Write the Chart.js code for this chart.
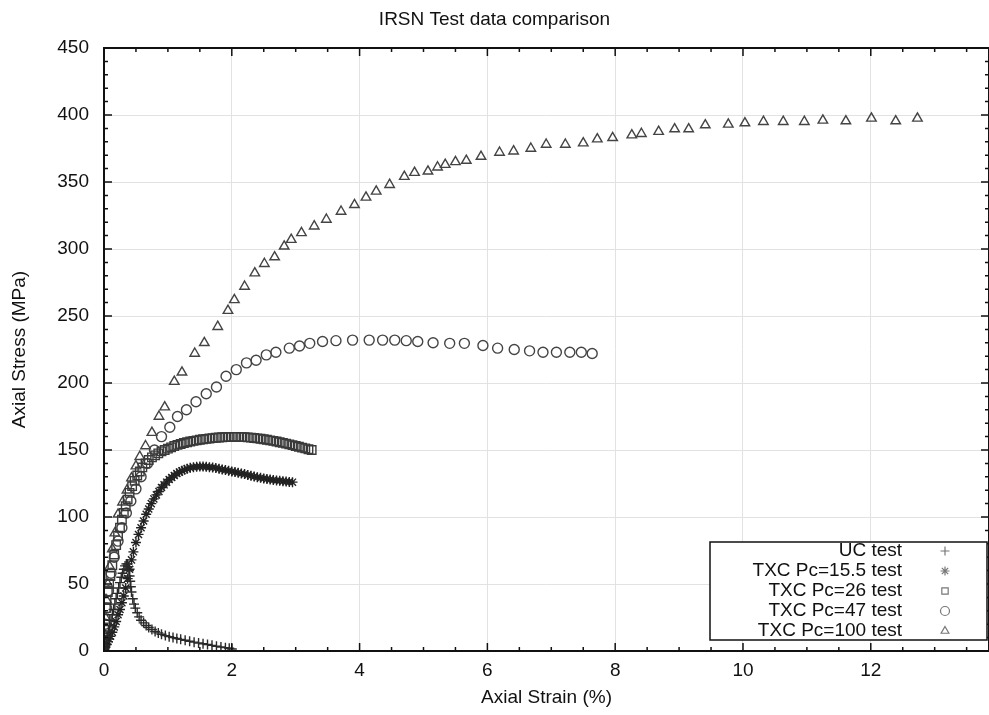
<!DOCTYPE html>
<html>
<head>
<meta charset="utf-8">
<title>IRSN Test data comparison</title>
<script src="https://cdn.jsdelivr.net/npm/chart.js@4.4.1/dist/chart.umd.min.js"></script>
<style>
  html, body { margin: 0; padding: 0; background: #fff; }
  #grafico { display: block; }
</style>
</head>
<body>
<canvas id="grafico" width="989" height="715"></canvas>
<script>
// Dados (deformação axial em %, tensão axial em MPa)
const ucStrain = [0, 0.01, 0.02, 0.03, 0.05, 0.07, 0.09, 0.11, 0.13, 0.15, 0.17, 0.19, 0.21, 0.23, 0.25, 0.27, 0.29, 0.31, 0.33, 0.35, 0.37, 0.38, 0.39, 0.4, 0.41, 0.42, 0.43, 0.45, 0.47, 0.49, 0.52, 0.55, 0.58, 0.62, 0.66, 0.7, 0.75, 0.8, 0.85, 0.9, 0.96, 1.02, 1.08, 1.14, 1.2, 1.27, 1.34, 1.41, 1.48, 1.55, 1.62, 1.69, 1.76, 1.83, 1.9, 1.96, 2.0];
const ucStress = [0, 2, 4, 7, 11, 15, 19, 23, 27, 31, 35, 39, 43, 47, 51, 55, 58, 61, 63.5, 65, 65, 63, 60, 56, 52, 48, 44, 39, 35, 32, 28.5, 25.5, 23, 21, 19, 17.5, 16, 14.5, 13.5, 12.5, 11.5, 10.7, 10, 9.3, 8.7, 8, 7.3, 6.6, 6, 5.4, 4.8, 4.2, 3.6, 3, 2.5, 2, 1.5];

const pc15Strain = [0, 0.02, 0.04, 0.06, 0.08, 0.1, 0.13, 0.16, 0.19, 0.22, 0.25, 0.28, 0.31, 0.34, 0.37, 0.4, 0.43, 0.46, 0.5, 0.54, 0.58, 0.62, 0.66, 0.7, 0.74, 0.78, 0.82, 0.86, 0.9, 0.94, 0.98, 1.02, 1.06, 1.1, 1.14, 1.18, 1.22, 1.26, 1.3, 1.35, 1.4, 1.45, 1.5, 1.55, 1.6, 1.65, 1.7, 1.75, 1.8, 1.85, 1.9, 1.95, 2.0, 2.05, 2.1, 2.15, 2.2, 2.25, 2.3, 2.35, 2.4, 2.45, 2.5, 2.55, 2.6, 2.65, 2.7, 2.75, 2.8, 2.85, 2.9, 2.95];
const pc15Stress = [0, 3, 5, 7, 9, 11, 14, 18, 22, 27, 31, 36, 41, 47, 54, 61, 68, 74, 81, 87, 92, 97, 102, 106, 110, 113.5, 116.5, 119, 122, 124, 126, 128, 129.5, 131, 132.5, 133.5, 134.5, 135.3, 136, 136.7, 137.2, 137.5, 137.6, 137.6, 137.5, 137.2, 136.9, 136.5, 136, 135.5, 135, 134.5, 134, 133.5, 133, 132.5, 132, 131.4, 130.8, 130.2, 129.7, 129.2, 128.8, 128.4, 128, 127.6, 127.3, 127, 126.7, 126.4, 126.2, 126];

const pc26Strain = [0, 0.01, 0.02, 0.02, 0.03, 0.04, 0.06, 0.08, 0.1, 0.13, 0.16, 0.19, 0.22, 0.25, 0.28, 0.31, 0.34, 0.37, 0.4, 0.44, 0.48, 0.52, 0.56, 0.6, 0.65, 0.7, 0.75, 0.8, 0.85, 0.9, 0.95, 1.0, 1.05, 1.1, 1.15, 1.2, 1.25, 1.3, 1.35, 1.4, 1.45, 1.5, 1.55, 1.6, 1.65, 1.7, 1.75, 1.8, 1.85, 1.9, 1.95, 2.0, 2.05, 2.1, 2.15, 2.2, 2.25, 2.3, 2.35, 2.4, 2.45, 2.5, 2.55, 2.6, 2.65, 2.7, 2.75, 2.8, 2.85, 2.9, 2.95, 3.0, 3.05, 3.1, 3.15, 3.2, 3.25];
const pc26Stress = [0, 8, 16, 24, 32, 38, 44, 50, 56, 64, 72, 79, 86, 92, 98, 103, 108, 113, 118, 123, 127, 131, 134, 137, 140, 142.5, 144.5, 146, 147.5, 149, 150, 151, 152, 153, 153.8, 154.5, 155.2, 155.8, 156.3, 156.8, 157.2, 157.6, 158, 158.3, 158.6, 158.9, 159.1, 159.3, 159.5, 159.6, 159.7, 159.8, 159.8, 159.8, 159.7, 159.6, 159.4, 159.2, 159, 158.7, 158.4, 158, 157.6, 157.2, 156.8, 156.3, 155.8, 155.3, 154.8, 154.2, 153.6, 153, 152.4, 151.8, 151.2, 150.6, 150];

const pc47Strain = [0, 0.01, 0.02, 0.04, 0.07, 0.11, 0.16, 0.22, 0.28, 0.35, 0.42, 0.5, 0.58, 0.68, 0.79, 0.9, 1.03, 1.15, 1.29, 1.44, 1.6, 1.76, 1.91, 2.07, 2.23, 2.38, 2.54, 2.69, 2.9, 3.06, 3.22, 3.42, 3.63, 3.89, 4.15, 4.36, 4.55, 4.73, 4.91, 5.15, 5.41, 5.64, 5.93, 6.16, 6.42, 6.66, 6.87, 7.08, 7.29, 7.47, 7.64];
const pc47Stress = [0, 10, 20, 32, 45, 58, 70, 82, 92, 103, 112, 121, 130, 140, 150, 160, 167, 175, 180, 186, 192, 197, 205, 210, 215, 217, 221, 223, 226, 227.6, 229.6, 231, 231.6, 232, 232, 232, 232, 231.6, 231, 230, 229.6, 229.6, 228, 226, 225, 224, 223, 223, 223, 223, 222];

const pc100Strain = [0, 0.01, 0.02, 0.04, 0.06, 0.09, 0.13, 0.17, 0.22, 0.29, 0.36, 0.43, 0.5, 0.56, 0.65, 0.75, 0.86, 0.95, 1.1, 1.22, 1.42, 1.57, 1.78, 1.94, 2.04, 2.2, 2.36, 2.51, 2.67, 2.82, 2.93, 3.09, 3.29, 3.48, 3.71, 3.92, 4.1, 4.26, 4.47, 4.7, 4.86, 5.07, 5.22, 5.34, 5.5, 5.67, 5.9, 6.19, 6.41, 6.68, 6.92, 7.22, 7.5, 7.72, 7.96, 8.26, 8.41, 8.68, 8.93, 9.15, 9.41, 9.77, 10.03, 10.32, 10.63, 10.96, 11.25, 11.61, 12.01, 12.39, 12.73];
const pc100Stress = [0, 12, 25, 38, 50, 63, 76, 88, 102, 111, 120, 129, 138, 145, 153, 163, 175, 182, 201, 208, 222, 230, 242, 254, 262, 272, 282, 289, 294, 302, 307, 312, 317, 322, 328, 333, 338.5, 343, 348, 354, 357, 358, 361, 363, 365, 366, 369, 372, 373, 375, 378, 378, 379, 382, 383, 385, 386, 387.6, 389.5, 389.5, 392.5, 393, 394, 395, 395, 395, 396, 395.5, 397.5, 395.5, 397.5];

const serieLabels = ['UC test', 'TXC Pc=15.5 test', 'TXC Pc=26 test', 'TXC Pc=47 test', 'TXC Pc=100 test'];

const xMax = 13.85;
const yMax = 450;
const fonte = '"Liberation Sans", Arial, sans-serif';

function pares(xs, ys) {
  return xs.map((x, i) => ({ x: x, y: ys[i] }));
}

function serie(label, xs, ys, estilo, raio, cor) {
  return {
    label: label,
    data: pares(xs, ys),
    pointStyle: estilo,
    pointRadius: raio,
    pointBorderWidth: 1.4,
    borderColor: cor,
    backgroundColor: 'rgba(0,0,0,0)',
    showLine: false
  };
}

// Moldura e marcas para dentro, estilo gnuplot
const molduraPlugin = {
  id: 'moldura',
  afterDatasetsDraw(chart) {
    const { ctx, chartArea: a } = chart;
    const sx = chart.scales.x;
    const sy = chart.scales.y;
    ctx.save();
    ctx.strokeStyle = '#111';
    ctx.lineWidth = 1.5;
    ctx.beginPath();
    for (let i = 0; i * 0.5 <= xMax; i++) {
      const px = sx.getPixelForValue(i * 0.5);
      const len = i % 4 === 0 ? 8 : 4;
      ctx.moveTo(px, a.bottom); ctx.lineTo(px, a.bottom - len);
      ctx.moveTo(px, a.top); ctx.lineTo(px, a.top + len);
    }
    for (let i = 0; i * 10 <= yMax; i++) {
      const py = sy.getPixelForValue(i * 10);
      const len = i % 5 === 0 ? 8 : 4;
      ctx.moveTo(a.left, py); ctx.lineTo(a.left + len, py);
      ctx.moveTo(a.right, py); ctx.lineTo(a.right - len, py);
    }
    ctx.stroke();
    ctx.lineWidth = 2;
    ctx.strokeRect(a.left, a.top, a.right - a.left, a.bottom - a.top);
    ctx.restore();
  }
};

// Legenda em caixa no canto inferior direito
const legendaPlugin = {
  id: 'legenda',
  afterDraw(chart) {
    const ctx = chart.ctx;
    const caixa = { x: 710, y: 542, w: 277, h: 98 };
    ctx.save();
    ctx.fillStyle = '#fff';
    ctx.fillRect(caixa.x, caixa.y, caixa.w, caixa.h);
    ctx.strokeStyle = '#111';
    ctx.lineWidth = 1.5;
    ctx.strokeRect(caixa.x, caixa.y, caixa.w, caixa.h);
    ctx.font = '19px ' + fonte;
    ctx.textAlign = 'right';
    ctx.textBaseline = 'middle';
    chart.data.datasets.forEach((ds, i) => {
      const yy = caixa.y + 9 + i * 20;
      ctx.fillStyle = '#111';
      ctx.fillText(ds.label, 902, yy);
      ctx.strokeStyle = '#777';
      ctx.fillStyle = 'rgba(0,0,0,0)';
      ctx.lineWidth = 1.2;
      Chart.helpers.drawPoint(ctx, {
        pointStyle: ds.pointStyle,
        radius: 4.5,
        rotation: 0,
        borderWidth: 1.2
      }, 945, yy);
    });
    ctx.restore();
  }
};

function desenharGrafico() {
  const ctx = document.getElementById('grafico').getContext('2d');
  new Chart(ctx, {
    type: 'scatter',
    data: {
      datasets: [
        serie(serieLabels[0], ucStrain, ucStress, 'cross', 5, '#2a2a2a'),
        serie(serieLabels[1], pc15Strain, pc15Stress, 'star', 5, '#222'),
        serie(serieLabels[2], pc26Strain, pc26Stress, 'rect', 6, '#3a3a3a'),
        serie(serieLabels[3], pc47Strain, pc47Stress, 'circle', 5, '#444'),
        serie(serieLabels[4], pc100Strain, pc100Stress, 'triangle', 5.5, '#444')
      ]
    },
    options: {
      responsive: false,
      animation: false,
      events: [],
      layout: { padding: 0, autoPadding: false },
      plugins: {
        legend: { display: false },
        tooltip: { enabled: false },
        title: {
          display: true,
          text: 'IRSN Test data comparison',
          color: '#111',
          font: { family: fonte, size: 19, weight: 'normal' },
          padding: { top: 8, bottom: 17.2 }
        }
      },
      scales: {
        x: {
          type: 'linear',
          min: 0,
          max: xMax,
          afterBuildTicks: (scale) => {
            scale.ticks = scale.ticks.filter(t => Math.abs(t.value / 2 - Math.round(t.value / 2)) < 1e-6);
          },
          afterFit: (scale) => {
            scale.height = 64;
            scale.paddingRight = 0;
            scale.paddingLeft = 0;
          },
          ticks: { stepSize: 2, color: '#111', padding: 8, font: { family: fonte, size: 19 } },
          grid: { color: '#e2e2e2', lineWidth: 1, drawTicks: false },
          border: { display: false },
          title: {
            display: true,
            text: 'Axial Strain (%)',
            color: '#111',
            font: { family: fonte, size: 19 },
            padding: { top: 0, bottom: 5.6 }
          }
        },
        y: {
          type: 'linear',
          min: 0,
          max: yMax,
          afterFit: (scale) => {
            scale.width = 104;
            scale.paddingTop = 0;
            scale.paddingBottom = 0;
          },
          ticks: { stepSize: 50, color: '#111', padding: 15, font: { family: fonte, size: 19 } },
          grid: { color: '#e2e2e2', lineWidth: 1, drawTicks: false },
          border: { display: false },
          title: {
            display: true,
            text: 'Axial Stress (MPa)',
            color: '#111',
            font: { family: fonte, size: 19 },
            padding: { top: 8.6, bottom: 0 }
          }
        }
      }
    },
    plugins: [molduraPlugin, legendaPlugin]
  });
}

document.addEventListener('DOMContentLoaded', function () {
  desenharGrafico();
});
</script>
</body>
</html>
